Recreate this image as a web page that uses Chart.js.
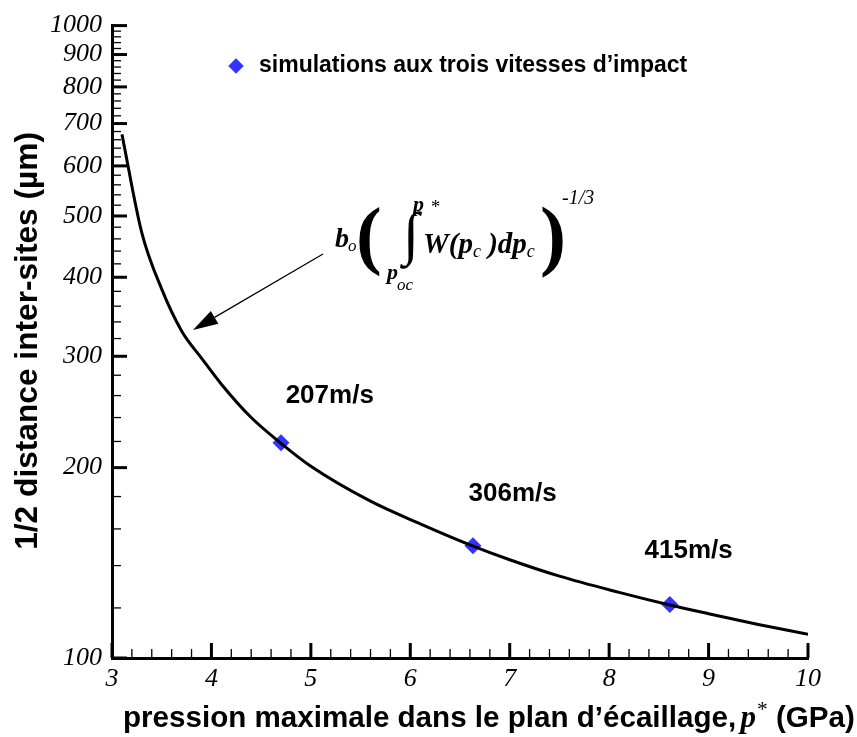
<!DOCTYPE html>
<html>
<head>
<meta charset="utf-8">
<script src="https://cdn.jsdelivr.net/npm/chart.js@4.4.1/dist/chart.umd.min.js"></script>
<style>
html,body{margin:0;padding:0;background:#ffffff;}
#wrap{width:857px;height:737px;position:relative;}
</style>
</head>
<body>
<div id="wrap"><canvas id="c" width="857" height="737"></canvas></div>
<script>
// ---- data ----
const curvePressure = [3.1, 3.3, 3.5, 3.7, 3.9, 4.1, 4.4, 4.7, 5.0, 5.6, 6.1, 6.6, 7.0, 7.5, 8.1, 8.6, 9.0, 9.5, 10.0];
const curveDistance = [673, 470, 383, 329, 298, 271, 240, 218.5, 201, 177, 163, 151, 143, 134.7, 127, 121.4, 117.5, 113, 109];
const simPressure = [4.70, 6.63, 8.61];
const simDistance = [219, 150.5, 121.5];
const speedLabels = ['207m/s', '306m/s', '415m/s'];
const xTickValues = [3, 4, 5, 6, 7, 8, 9, 10];
const yTickValues = [100, 200, 300, 400, 500, 600, 700, 800, 900, 1000];
const legendLabel = 'simulations aux trois vitesses d\u2019impact';
const xTitleMain = 'pression maximale dans le plan d\u2019\u00e9caillage,';
const xTitleUnit = ' (GPa)';
const yTitle = '1/2 distance inter-sites (\u00b5m)';

// annotation anchors (data space) for the speed labels
const speedLabelP = [5.19, 7.03, 8.80];
const speedLabelD = [253, 177, 144];

// minor tick values (axis decoration)
const xAllTicks = [];
for (let i = 0; i < xTickValues.length - 1; i++) {
  for (let k = 0; k < 5; k++) xAllTicks.push(Math.round((xTickValues[i] + k * 0.2) * 10) / 10);
}
xAllTicks.push(xTickValues[xTickValues.length - 1]);
const yAllTicks = [];
for (let i = 0; i < yTickValues.length - 1; i++) {
  for (let k = 0; k < 5; k++) yAllTicks.push(yTickValues[i] + k * 20);
}
yAllTicks.push(yTickValues[yTickValues.length - 1]);

const SANS = '"Liberation Sans", Arial, sans-serif';
const SERIF = '"Liberation Serif", "Times New Roman", "DejaVu Serif", serif';

function fitGlyph(ctx, ch, fontFn, left, top, height) {
  ctx.font = fontFn(100);
  const m = ctx.measureText(ch);
  const h = m.actualBoundingBoxAscent + m.actualBoundingBoxDescent;
  const size = 100 * height / h;
  ctx.font = fontFn(size);
  const m2 = ctx.measureText(ch);
  ctx.textAlign = 'left';
  ctx.textBaseline = 'alphabetic';
  ctx.fillText(ch, left + m2.actualBoundingBoxLeft, top + m2.actualBoundingBoxAscent);
}

// place the library legend inside the plot, where the reference has it
const legendPlace = {
  id: 'legendPlace',
  afterLayout(chart) {
    const lg = chart.legend;
    if (!lg) return;
    const pad = lg.options.labels.padding;
    const w = lg.width, h = lg.height;
    lg.left = 224.5 - pad;
    lg.top = 54.5 - pad;
    lg.right = lg.left + w;
    lg.bottom = lg.top + h;
  }
};

const decorPlugin = {
  id: 'decor',
  afterDraw(chart) {
    const ctx = chart.ctx;
    const a = chart.chartArea;
    const xs = chart.scales.x, ys = chart.scales.y;
    ctx.save();
    ctx.strokeStyle = '#000';
    ctx.fillStyle = '#000';
    // inward tick marks
    xs.ticks.forEach(t => {
      const major = xTickValues.includes(t.value);
      const px = xs.getPixelForValue(t.value);
      ctx.lineWidth = major ? 3 : 1.3;
      ctx.beginPath();
      ctx.moveTo(px, a.bottom);
      ctx.lineTo(px, a.bottom - (major ? 15 : 9));
      ctx.stroke();
    });
    ys.ticks.forEach(t => {
      const major = yTickValues.includes(t.value);
      const py = ys.getPixelForValue(t.value);
      ctx.lineWidth = major ? 3 : 1.3;
      ctx.beginPath();
      ctx.moveTo(a.left, py);
      ctx.lineTo(a.left + (major ? 15 : 9), py);
      ctx.stroke();
    });

    // speed labels
    ctx.textAlign = 'center';
    ctx.textBaseline = 'alphabetic';
    ctx.font = 'bold 26px ' + SANS;
    speedLabels.forEach((s, i) => {
      ctx.fillText(s, xs.getPixelForValue(speedLabelP[i]), ys.getPixelForValue(speedLabelD[i]));
    });

    // x axis title (mixed fonts), fitted to the reference width
    const base = 30;
    const segs = [
      {t: xTitleMain, f: s => 'bold ' + s + 'px ' + SANS, dy: 0, gap: 0},
      {t: 'p', f: s => 'italic bold ' + (s * 1.05) + 'px ' + SERIF, dy: 0, gap: 0.15},
      {t: '*', f: s => (s * 0.72) + 'px ' + SERIF, dy: -0.38, gap: 0.03},
      {t: xTitleUnit, f: s => 'bold ' + s + 'px ' + SANS, dy: 0, gap: 0}
    ];
    function totalWidth(s) {
      let w = 0;
      segs.forEach(g => { ctx.font = g.f(s); w += ctx.measureText(g.t).width + g.gap * s; });
      return w;
    }
    const sz = base * 732 / totalWidth(base);
    let cx = 123;
    ctx.textAlign = 'left';
    segs.forEach(g => {
      cx += g.gap * sz;
      ctx.font = g.f(sz);
      ctx.fillText(g.t, cx, 727 + g.dy * sz);
      cx += ctx.measureText(g.t).width;
    });

    // y axis title, fitted to the reference length
    ctx.font = 'bold 30px ' + SANS;
    const yz = 30 * 418 / ctx.measureText(yTitle).width;
    ctx.font = 'bold ' + yz + 'px ' + SANS;
    const yw = ctx.measureText(yTitle).width;
    ctx.save();
    ctx.translate(37, 132 + yw / 2);
    ctx.rotate(-Math.PI / 2);
    ctx.textAlign = 'center';
    ctx.fillText(yTitle, 0, 0);
    ctx.restore();

    // formula annotation
    ctx.textAlign = 'left';
    ctx.textBaseline = 'alphabetic';
    ctx.font = 'italic bold 28px ' + SERIF;
    ctx.fillText('b', 335, 247);
    ctx.font = 'italic 17px ' + SERIF;
    ctx.fillText('o', 348, 251);
    fitGlyph(ctx, '(', s => 'bold ' + s + 'px ' + SERIF, 359, 207, 71);
    fitGlyph(ctx, '\u222B', s => s + 'px ' + SERIF, 399, 211, 58);
    ctx.font = 'italic bold 22px ' + SERIF;
    ctx.fillText('p', 413, 211);
    ctx.font = 'italic 19px ' + SERIF;
    ctx.fillText('*', 430, 213);
    let fx = 423;
    const parts = [
      {t: 'W(p', f: 'italic bold 29px ' + SERIF, y: 253},
      {t: 'c', f: 'italic 18px ' + SERIF, y: 257},
      {t: ' )dp', f: 'italic bold 29px ' + SERIF, y: 253},
      {t: 'c', f: 'italic 18px ' + SERIF, y: 257}
    ];
    parts.forEach(p => { ctx.font = p.f; ctx.fillText(p.t, fx, p.y); fx += ctx.measureText(p.t).width; });
    ctx.font = 'italic bold 22px ' + SERIF;
    ctx.fillText('p', 387, 279);
    const pw = ctx.measureText('p').width;
    ctx.font = 'italic 17px ' + SERIF;
    ctx.fillText('oc', 387 + pw - 1, 290);
    fitGlyph(ctx, ')', s => 'bold ' + s + 'px ' + SERIF, 542, 206, 72);
    ctx.font = 'italic 20px ' + SERIF;
    ctx.fillText('-1/3', 562, 204);

    // arrow
    const x1 = 323, y1 = 254, x2 = 193, y2 = 330;
    const ang = Math.atan2(y2 - y1, x2 - x1);
    const L = 25, W = 7.5;
    const bx = x2 - L * Math.cos(ang), by = y2 - L * Math.sin(ang);
    ctx.lineWidth = 1.2;
    ctx.beginPath();
    ctx.moveTo(x1, y1);
    ctx.lineTo(bx, by);
    ctx.stroke();
    ctx.beginPath();
    ctx.moveTo(x2, y2);
    ctx.lineTo(bx + W * Math.sin(ang), by - W * Math.cos(ang));
    ctx.lineTo(bx - W * Math.sin(ang), by + W * Math.cos(ang));
    ctx.closePath();
    ctx.fill();
    ctx.restore();
  }
};

new Chart(document.getElementById('c'), {
  type: 'scatter',
  data: {
    datasets: [
      {
        label: 'courbe',
        data: curvePressure.map((p, i) => ({x: p, y: curveDistance[i]})),
        showLine: true,
        borderColor: '#000000',
        borderWidth: 3,
        pointRadius: 0,
        cubicInterpolationMode: 'monotone',
        fill: false
      },
      {
        label: legendLabel,
        data: simPressure.map((p, i) => ({x: p, y: simDistance[i]})),
        showLine: false,
        pointStyle: 'rectRot',
        pointRadius: 8.5,
        pointHoverRadius: 8.5,
        backgroundColor: '#3333ff',
        borderColor: '#3333ff',
        borderWidth: 0
      }
    ]
  },
  options: {
    responsive: false,
    animation: false,
    devicePixelRatio: 1,
    layout: {padding: {left: 0, right: 49, top: 24, bottom: 0}},
    plugins: {
      tooltip: {enabled: false},
      legend: {
        position: 'chartArea',
        align: 'start',
        labels: {
          filter: item => item.datasetIndex === 1,
          usePointStyle: true,
          boxWidth: 23,
          boxHeight: 11,
          padding: 10,
          color: '#000',
          font: {family: SANS, size: 23, weight: 'bold'}
        }
      }
    },
    scales: {
      x: {
        type: 'linear',
        min: 3,
        max: 10,
        afterFit(s) { s.height = 79; },
        afterBuildTicks(s) { s.ticks = xAllTicks.map(v => ({value: v})); },
        grid: {display: false, drawTicks: false},
        border: {display: true, color: '#000', width: 3},
        ticks: {
          autoSkip: false,
          maxRotation: 0,
          padding: 6,
          color: '#000',
          font: {family: SERIF, style: 'italic', size: 26},
          callback: v => (xTickValues.includes(v) ? String(v) : '')
        }
      },
      y: {
        type: 'logarithmic',
        min: 100,
        max: 1000,
        afterFit(s) { s.width = 112; },
        afterBuildTicks(s) { s.ticks = yAllTicks.map(v => ({value: v})); },
        grid: {display: false, drawTicks: false},
        border: {display: true, color: '#000', width: 3},
        ticks: {
          autoSkip: false,
          padding: 10,
          color: '#000',
          font: {family: SERIF, style: 'italic', size: 26},
          callback: v => (yTickValues.includes(v) ? String(v) : '')
        }
      }
    }
  },
  plugins: [legendPlace, decorPlugin]
});
</script>
</body>
</html>
